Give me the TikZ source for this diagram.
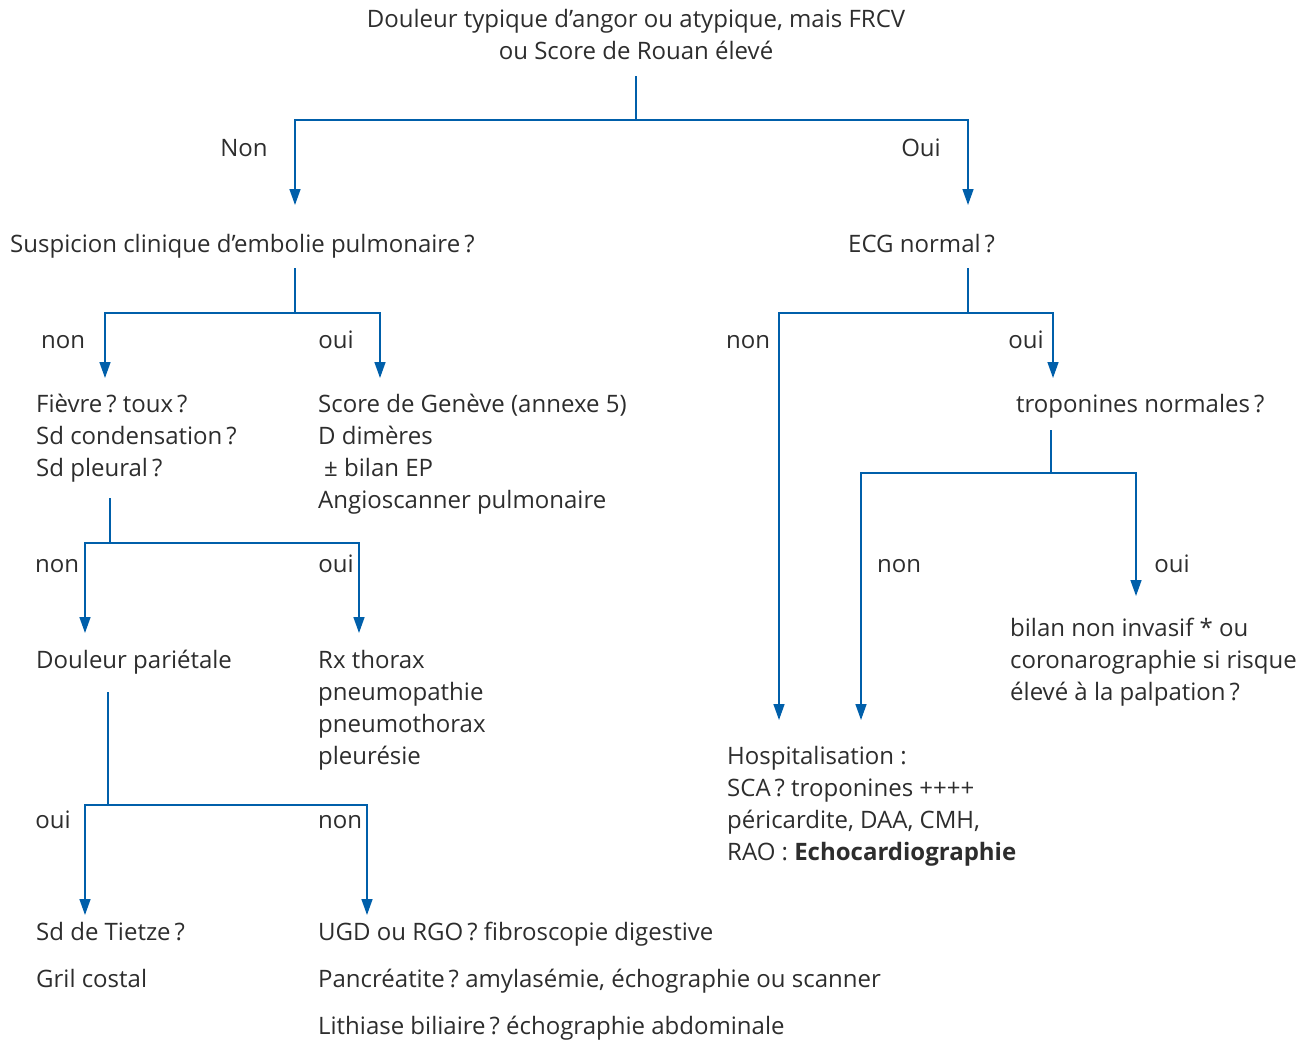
\documentclass[tikz,border=0pt]{standalone}
\usepackage{fontspec}
\setmainfont{Open Sans}
\usetikzlibrary{arrows.meta}
\definecolor{linkblue}{RGB}{0,95,170}
\definecolor{inkgray}{RGB}{45,45,45}
% a left-aligned block whose baseline is that of its first line
\newcommand{\leftblock}[1]{\begin{tabular}[t]{@{}l@{}}#1\end{tabular}}
\newcommand{\centerblock}[1]{\begin{tabular}[t]{@{}c@{}}#1\end{tabular}}
\newcommand{\qm}{\kern4pt?}
\begin{document}
\begin{tikzpicture}[x=1pt,y=-1pt,
  txt/.style={anchor=base west, inner sep=0pt, text=inkgray, font=\fontsize{24}{32}\selectfont},
  lbl/.style={anchor=base, inner sep=0pt, text=inkgray, font=\fontsize{24}{32}\selectfont},
  link/.style={draw=linkblue, line width=1.5pt},
  arr/.style={link, -{Triangle[length=16pt,width=11pt]}}]
\useasboundingbox (0,0) rectangle (1311,1041);

% ---------- texts ----------
\node[lbl] (title) at (636,28) {\centerblock{Douleur typique d’angor ou atypique, mais FRCV\\ ou Score de Rouan élevé}};
\node[lbl] (lNon) at (244,156) {Non};
\node[lbl] (lOui) at (921,156) {Oui};

\node[txt] (sus) at (10,252) {Suspicion clinique d’embolie pulmonaire\qm};
\node[txt] (ecg) at (848,252) {ECG normal\qm};

\node[lbl] (l2non) at (63,348) {non};
\node[lbl] (l2oui) at (336,348) {oui};
\node[txt] (fievre) at (36,412) {\leftblock{Fièvre\qm\ toux\qm\\ Sd condensation\qm\\ Sd pleural\qm}};
\node[txt] (geneve) at (318,412) {\leftblock{Score de Genève (annexe 5)\\ D dimères\\ \hspace*{6pt}± bilan EP\\ Angioscanner pulmonaire}};

\node[lbl] (l3non) at (57,572) {non};
\node[lbl] (l3oui) at (336,572) {oui};
\node[txt] (pariet) at (36,668) {Douleur pariétale};
\node[txt] (rx) at (318,668) {\leftblock{Rx thorax\\ pneumopathie\\ pneumothorax\\ pleurésie}};

\node[lbl] (l4oui) at (53,828) {oui};
\node[lbl] (l4non) at (340,828) {non};
\node[txt] (tietze) at (36,940) {\leftblock{Sd de Tietze\qm\\[15pt] Gril costal}};
\node[txt] (ugd) at (318,940) {\leftblock{UGD ou RGO\qm\ fibroscopie digestive\\[15pt] Pancréatite\qm\ amylasémie, échographie ou scanner\\[15pt] Lithiase biliaire\qm\ échographie abdominale}};

\node[lbl] (r2non) at (748,348) {non};
\node[lbl] (r2oui) at (1026,348) {oui};
\node[txt] (tropo) at (1016,412) {troponines normales\qm};

\node[lbl] (r3non) at (899,572) {non};
\node[lbl] (r3oui) at (1172,572) {oui};
\node[txt] (bilan) at (1010,636) {\leftblock{bilan non invasif * ou\\ coronarographie si risque\\ élevé à la palpation\qm}};
\node[txt] (hosp) at (727,764) {\leftblock{Hospitalisation :\\ SCA\qm\ troponines ++++\\ péricardite, DAA, CMH,\\ RAO : \textbf{Echocardiographie}}};

% ---------- connectors ----------
% first split
\coordinate (a0) at (636,76);  \coordinate (a1) at (636,120);
\coordinate (aL) at (295,205); \coordinate (aR) at (968,205);
\draw[link] (a0) -- (a1);
\draw[arr] (a1) -| (aL);
\draw[arr] (a1) -| (aR);

% pulmonary embolism split
\coordinate (b0) at (295,268); \coordinate (b1) at (295,313);
\coordinate (bL) at (105,378); \coordinate (bR) at (380,378);
\draw[link] (b0) -- (b1);
\draw[arr] (b1) -| (bL);
\draw[arr] (b1) -| (bR);

% fever / cough split
\coordinate (c0) at (110,498); \coordinate (c1) at (110,543);
\coordinate (cL) at (85,633);  \coordinate (cR) at (359,633);
\draw[link] (c0) -- (c1);
\draw[arr] (c1) -| (cL);
\draw[arr] (c1) -| (cR);

% parietal pain split
\coordinate (d0) at (108,692); \coordinate (d1) at (108,805);
\coordinate (dL) at (85,915);  \coordinate (dR) at (367,915);
\draw[link] (d0) -- (d1);
\draw[arr] (d1) -| (dL);
\draw[arr] (d1) -| (dR);

% ECG split
\coordinate (e0) at (968,268); \coordinate (e1) at (968,313);
\coordinate (eL) at (779,720); \coordinate (eR) at (1053,378);
\draw[link] (e0) -- (e1);
\draw[arr] (e1) -| (eL);
\draw[arr] (e1) -| (eR);

% troponin split
\coordinate (f0) at (1051,430); \coordinate (f1) at (1051,473);
\coordinate (fL) at (861,720);  \coordinate (fR) at (1136,596);
\draw[link] (f0) -- (f1);
\draw[arr] (f1) -| (fL);
\draw[arr] (f1) -| (fR);
\end{tikzpicture}
\end{document}
